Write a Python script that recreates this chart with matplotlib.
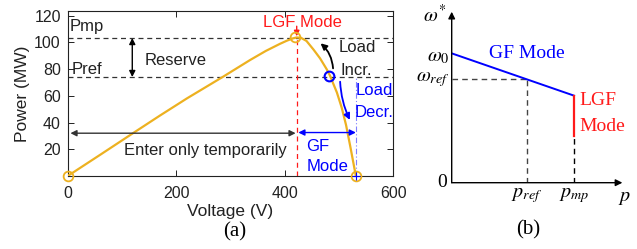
import matplotlib
matplotlib.use("Agg")
import matplotlib.pyplot as plt

# ---------------- data (a) ----------------
voltage = [0, 60, 121, 170, 220, 287, 336, 365, 391, 404, 415, 422, 430, 440, 453, 465, 477, 483,
           496, 505, 513, 521.5, 531]
power = [0, 15.9, 32.2, 45.2, 58.1, 74.4, 86.7, 93.5, 98.8, 101.2, 102.9, 103.6, 103.3, 101.0, 94.5,
         88.0, 80.0, 75.3, 62.5, 51.0, 38.0, 20.5, 0]
p_mp = 103.2
p_ref = 74.0
v_mp = 422
v_oc = 531
v_op = 482
x_ticks = [0, 200, 400, 600]
y_ticks = [20, 40, 60, 80, 100, 120]

# ---------------- data (b) ----------------
b_p = [0.0, 0.706]
b_w = [0.749, 0.504]
b_pref = 0.433
b_wref = 0.599
b_lgf_low = 0.27

orange = '#EDB120'
blue = '#0000FF'
red = '#FF1A1A'

plt.rcParams['font.family'] = ['Liberation Sans', 'DejaVu Sans']
plt.rcParams['mathtext.fontset'] = 'stix'

W, H = 637, 249
fig = plt.figure(figsize=(W / 100, H / 100), dpi=100)

def rect(l, t, r, b):
    return [l / W, (H - b) / H, (r - l) / W, (b - t) / H]

ax = fig.add_axes(rect(67.7, 10.7, 393.3, 176))
ax.set_xlim(0, 600)
ax.set_ylim(0, 123.6)
ax.set_xticks(x_ticks)
ax.set_yticks(y_ticks)
ax.tick_params(direction='in', top=True, right=True, length=4, width=0.7,
               labelsize=11.5, colors='#222222')
ax.tick_params(axis='x', pad=7)
ax.tick_params(axis='y', pad=5)
for s in ax.spines.values():
    s.set_linewidth(0.8)
    s.set_color('#222222')
ax.set_xlabel('Voltage (V)', fontsize=12.5, color='#222222', labelpad=2)
ax.set_ylabel('Power (MW)', fontsize=12.5, color='#222222', labelpad=3)

dash_c = '#333333'
ax.plot([0, 600], [p_mp, p_mp], ls=(0, (4, 3)), color=dash_c, lw=0.9)
ax.plot([0, 600], [p_ref, p_ref], ls=(0, (4, 3)), color=dash_c, lw=0.9)
ax.plot([v_mp, v_mp], [0, p_mp], ls=(0, (4, 3)), color=red, lw=0.9)
ax.plot([v_oc, v_oc], [0, p_ref], ls=(0, (5, 2, 1, 2)), color='#8080FF', lw=0.8)

ax.plot(voltage, power, color=orange, lw=1.6, zorder=3, solid_joinstyle='round')
ax.plot([0, v_oc, 419], [0, 0, 103.8], 'o', ms=7, mfc='none', mec=orange, mew=1.3, clip_on=False, zorder=4)
ax.plot([v_oc], [0], '+', ms=6, color=blue, mew=0.8, clip_on=False, zorder=5)
ax.plot([v_op], [75], 'o', ms=7, mfc='none', mec=blue, mew=1.5, zorder=5)

# arrows
ax.annotate('', xy=(119, p_mp), xytext=(119, p_ref),
            arrowprops=dict(arrowstyle='<|-|>', color='black', lw=1.0, mutation_scale=9, shrinkA=0, shrinkB=0))
ax.annotate('', xy=(5, 32), xytext=(420, 32),
            arrowprops=dict(arrowstyle='<|-|>', color='#333333', lw=1.0, mutation_scale=9, shrinkA=0, shrinkB=0))
ax.annotate('', xy=(425, 32.5), xytext=(531, 32.5),
            arrowprops=dict(arrowstyle='<|-|>', color=blue, lw=1.0, mutation_scale=9, shrinkA=0, shrinkB=0))
ax.annotate('', xy=(422, 104.5), xytext=(422, 112),
            arrowprops=dict(arrowstyle='-|>', color=red, lw=1.0, mutation_scale=8, shrinkA=0, shrinkB=0))
ax.annotate('', xy=(466, 99.2), xytext=(489, 80.5),
            arrowprops=dict(arrowstyle='-|>', color='black', lw=1.3, mutation_scale=9, shrinkA=0, shrinkB=0,
                            connectionstyle='arc3,rad=0.2'))
ax.annotate('', xy=(520, 41.9), xytext=(502, 70.5),
            arrowprops=dict(arrowstyle='-|>', color=blue, lw=1.3, mutation_scale=9, shrinkA=0, shrinkB=0,
                            connectionstyle='arc3,rad=0.1'))

fs = 12
ax.text(4, 112, 'Pmp', fontsize=fs, va='center', ha='left', color='#222222')
ax.text(7, 80, 'Pref', fontsize=fs, va='center', ha='left', color='#222222')
ax.text(141, 86, 'Reserve', fontsize=fs, va='center', ha='left', color='#222222')
ax.text(432, 114.6, 'LGF Mode', fontsize=fs, va='center', ha='center', color=red)
ax.text(253, 19.4, 'Enter only temporarily', fontsize=fs, va='center', ha='center', color='#222222')
ax.text(440, 22, 'GF', fontsize=fs, va='center', ha='left', color=blue)
ax.text(440, 7, 'Mode', fontsize=fs, va='center', ha='left', color=blue)
ax.text(500, 96, 'Load', fontsize=fs, va='center', ha='left', color='#222222')
ax.text(503, 78.7, 'Incr.', fontsize=fs, va='center', ha='left', color='#222222')
ax.text(531, 64.3, 'Load', fontsize=fs, va='center', ha='left', color=blue)
ax.text(528, 47.3, 'Decr.', fontsize=fs, va='center', ha='left', color=blue)

fig.text(235 / W, 1 - 231.7 / H, '(a)', fontsize=15, family='Liberation Serif', ha='center', va='center')

# ---------------- panel (b) ----------------
bx = fig.add_axes(rect(451.7, 10, 625, 182.7))
bx.set_xlim(0, 1)
bx.set_ylim(0, 1)
bx.axis('off')
bx.annotate('', xy=(0.985, 0), xytext=(0, 0), annotation_clip=False,
            arrowprops=dict(arrowstyle='-|>', color='black', lw=1.0, mutation_scale=10, shrinkA=0, shrinkB=0))
bx.annotate('', xy=(0, 0.99), xytext=(0, 0), annotation_clip=False,
            arrowprops=dict(arrowstyle='-|>', color='black', lw=1.0, mutation_scale=10, shrinkA=0, shrinkB=0))
bd = '#444444'
bx.plot([0, b_pref], [b_wref, b_wref], ls=(0, (4, 3)), color=bd, lw=1.0)
bx.plot([b_pref, b_pref], [0, b_wref], ls=(0, (4, 3)), color=bd, lw=1.0)
bx.plot([b_p[1], b_p[1]], [0, b_lgf_low], ls=(0, (4, 3)), color='black', lw=1.0)
bx.plot(b_p, b_w, color=blue, lw=1.4)
bx.plot([b_p[1], b_p[1]], [b_lgf_low, b_w[1]], color=red, lw=1.6)

sf = 'Liberation Serif'
bx.text(0.433, 0.749, 'GF Mode', fontsize=14, family=sf, color=blue, ha='center', va='center')
bx.text(0.736, 0.475, 'LGF', fontsize=14, family=sf, color=red, ha='left', va='center')
bx.text(0.736, 0.328, 'Mode', fontsize=14, family=sf, color=red, ha='left', va='center')
bx.text(-0.03, 0.97, r'$\omega^{*}$', fontsize=14.5, ha='right', va='center')
bx.text(-0.01, 0.73, r'$\omega_{0}$', fontsize=14.5, ha='right', va='center')
bx.text(-0.01, 0.6, r'$\omega_{ref}$', fontsize=14.5, ha='right', va='center')
bx.text(-0.03, 0.0, '0', fontsize=14, family=sf, ha='right', va='center')
bx.text(b_pref, -0.02, r'$p_{ref}$', fontsize=14.5, ha='center', va='top')
bx.text(b_p[1], -0.02, r'$p_{mp}$', fontsize=14.5, ha='center', va='top')
bx.text(0.995, -0.03, r'$p$', fontsize=14.5, ha='center', va='top')
fig.text(528 / W, 1 - 230 / H, '(b)', fontsize=15, family=sf, ha='center', va='center')

fig.savefig('out.png', dpi=100)
